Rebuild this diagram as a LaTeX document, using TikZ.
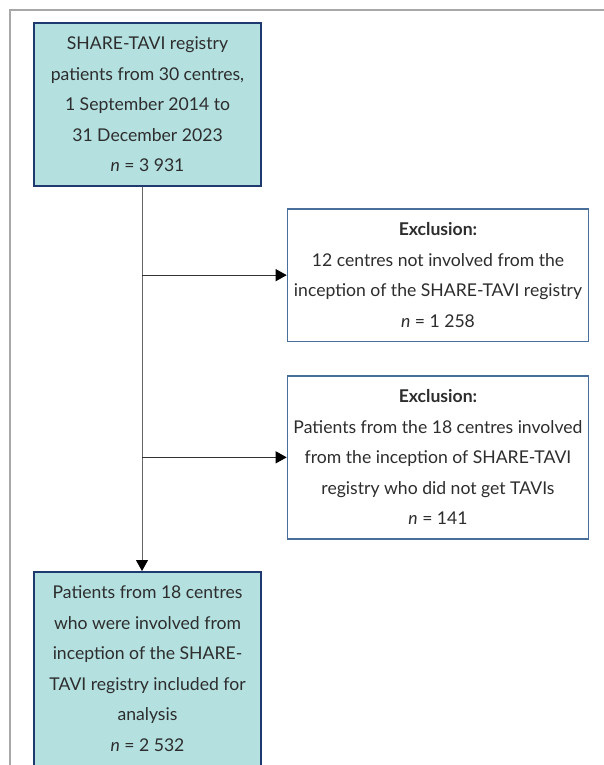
\documentclass[tikz,border=0pt]{standalone}
\usepackage{fontspec}
\setmainfont{Lato}
\usepackage{tikz}
\usetikzlibrary{positioning,calc,arrows.meta}

\definecolor{boxfill}{RGB}{180,224,224}
\definecolor{navyline}{RGB}{31,58,110}
\definecolor{steelline}{RGB}{74,110,154}
\definecolor{textgrey}{RGB}{45,45,45}
\definecolor{framegrey}{RGB}{168,168,168}

\tikzset{
    flowbox/.style={draw, line width=1.6pt, align=center, inner xsep=3pt, inner ysep=14pt,
        text=textgrey, font=\fontsize{17.6}{30.5}\selectfont},
    mainbox/.style={flowbox, draw=navyline, fill=boxfill, minimum width=227pt},
    exclbox/.style={flowbox, draw=steelline, fill=white, minimum width=301pt},
    flowarrow/.style={line width=1pt, -{Triangle[length=11pt,width=12pt,color=black]}}
}

\begin{document}
\begin{tikzpicture}[x=1pt,y=1pt]
    \useasboundingbox (0,0) rectangle (604,-765);
    % outer frame
    \draw[framegrey, line width=2pt] (10,-765) -- (10,-10) -- (604,-10);

    % boxes
    \node[mainbox, anchor=north] (start) at (147.5,-22) {SHARE-TAVI registry\\
        patients from 30 centres,\\ 1 September 2014 to\\ 31 December 2023\\ \textit{n} = 3 931};
    \node[exclbox, anchor=north] (excla) at (438,-208) {\textbf{Exclusion:}\\
        12 centres not involved from the\\ inception of the SHARE-TAVI registry\\ \textit{n} = 1 258};
    \node[exclbox, anchor=north] (exclb) at (438,-375) {\textbf{Exclusion:}\\
        Patients from the 18 centres involved\\ from the inception of SHARE-TAVI\\
        registry who did not get TAVIs\\ \textit{n} = 141};
    \node[mainbox, anchor=north] (final) at (147.5,-571) {Patients from 18 centres\\
        who were involved from\\ inception of the SHARE-\\ TAVI registry included for\\
        analysis\\ \textit{n} = 2 532};

    % connectors
    \coordinate (trunk) at ([xshift=-5.5pt]start.south);
    \draw[flowarrow, draw=black!60] (trunk) -- (trunk |- final.north);
    \draw[flowarrow, draw=black!80] (trunk |- excla.west) -- (excla.west);
    \draw[flowarrow, draw=black!80] (trunk |- exclb.west) -- (exclb.west);
\end{tikzpicture}
\end{document}
